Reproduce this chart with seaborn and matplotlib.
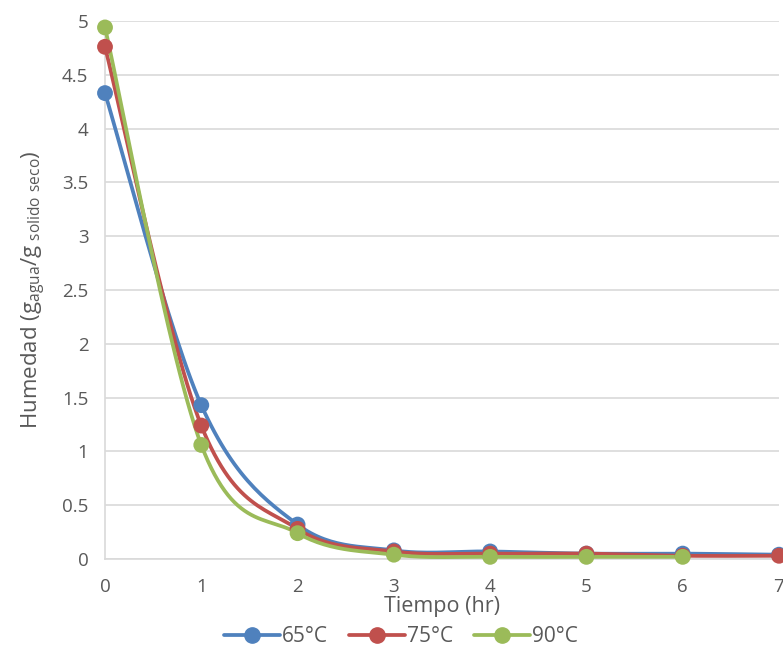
import numpy as np
import matplotlib
matplotlib.use("Agg")
import matplotlib.pyplot as plt
import seaborn as sns
import pandas as pd
from matplotlib.lines import Line2D

tiempo = [0, 1, 2, 3, 4, 5, 6, 7]
h65 = [4.33, 1.43, 0.32, 0.08, 0.07, 0.05, 0.05, 0.04]
h75 = [4.76, 1.24, 0.28, 0.07, 0.05, 0.05, 0.03, 0.03]
h90 = [4.94, 1.06, 0.24, 0.04, 0.02, 0.02, 0.02]
series = ["65°C", "75°C", "90°C"]
colors = ["#4F81BD", "#C0504D", "#9BBB59"]

sns.set_theme(style="white")
plt.rcParams["font.family"] = ["Open Sans", "DejaVu Sans"]

rows = []
for name, vals in zip(series, [h65, h75, h90]):
    for t, v in zip(tiempo, vals):
        rows.append({"Tiempo": t, "Humedad": v, "Serie": name})
df = pd.DataFrame(rows)

fig = plt.figure(figsize=(7.83, 6.5), dpi=100)
ax = fig.add_axes([105 / 783, 1 - 559 / 650, (779 - 105) / 783, (559 - 21) / 650])


def smooth(x, y, n=30):
    x = np.asarray(x, float)
    y = np.asarray(y, float)
    px, py = [], []
    m = len(x)
    for i in range(m - 1):
        p0 = (x[max(i - 1, 0)], y[max(i - 1, 0)])
        p1 = (x[i], y[i])
        p2 = (x[i + 1], y[i + 1])
        p3 = (x[min(i + 2, m - 1)], y[min(i + 2, m - 1)])
        c1 = (p1[0] + (p2[0] - p0[0]) / 6, p1[1] + (p2[1] - p0[1]) / 6)
        c2 = (p2[0] - (p3[0] - p1[0]) / 6, p2[1] - (p3[1] - p1[1]) / 6)
        t = np.linspace(0, 1, n)
        bx = (1 - t) ** 3 * p1[0] + 3 * (1 - t) ** 2 * t * c1[0] + 3 * (1 - t) * t ** 2 * c2[0] + t ** 3 * p2[0]
        by = (1 - t) ** 3 * p1[1] + 3 * (1 - t) ** 2 * t * c1[1] + 3 * (1 - t) * t ** 2 * c2[1] + t ** 3 * p2[1]
        px.extend(bx)
        py.extend(by)
    return np.array(px), np.array(py)


for name, c in zip(series, colors):
    sub = df[df["Serie"] == name]
    sx, sy = smooth(sub["Tiempo"], sub["Humedad"])
    ax.plot(sx, sy, color=c, lw=2.7, zorder=3, solid_capstyle="round")

sns.scatterplot(data=df, x="Tiempo", y="Humedad", hue="Serie", palette=colors,
                s=130, edgecolor="none", ax=ax, zorder=4, legend=False, clip_on=False)

ax.set_xlim(0, 7)
ax.set_ylim(0, 5)
ax.set_xticks(range(8))
ax.set_yticks([0, 0.5, 1, 1.5, 2, 2.5, 3, 3.5, 4, 4.5, 5])
ax.set_yticklabels(["0", "0.5", "1", "1.5", "2", "2.5", "3", "3.5", "4", "4.5", "5"])
ax.yaxis.grid(True, color="#D9D9D9", lw=1.2)
ax.xaxis.grid(False)
for s in ["top", "right"]:
    ax.spines[s].set_visible(False)
for s in ["left", "bottom"]:
    ax.spines[s].set_color("#D9D9D9")
    ax.spines[s].set_linewidth(1.2)
ax.tick_params(axis="x", length=0, labelsize=13.5, labelcolor="#595959", pad=14)
ax.tick_params(axis="y", length=0, labelsize=13.5, labelcolor="#595959", pad=12)
ax.set_axisbelow(True)

ax.set_xlabel("Tiempo (hr)", fontsize=15.5, color="#595959", labelpad=0)
ax.set_ylabel(r"Humedad (g$_\mathregular{agua}$/g$_\mathregular{\ solido\ seco}$)",
              fontsize=16, color="#595959", labelpad=10)

handles = [Line2D([0], [0], color=c, lw=2.7, marker="o", markersize=11) for c in colors]
fig.legend(handles, series, loc="center", bbox_to_anchor=(401 / 783, 1 - 637 / 650),
           ncol=3, frameon=False, fontsize=15, labelcolor="#595959",
           handlelength=2.7, handletextpad=0.1, columnspacing=1.0)

fig.savefig("out.png", dpi=100)
